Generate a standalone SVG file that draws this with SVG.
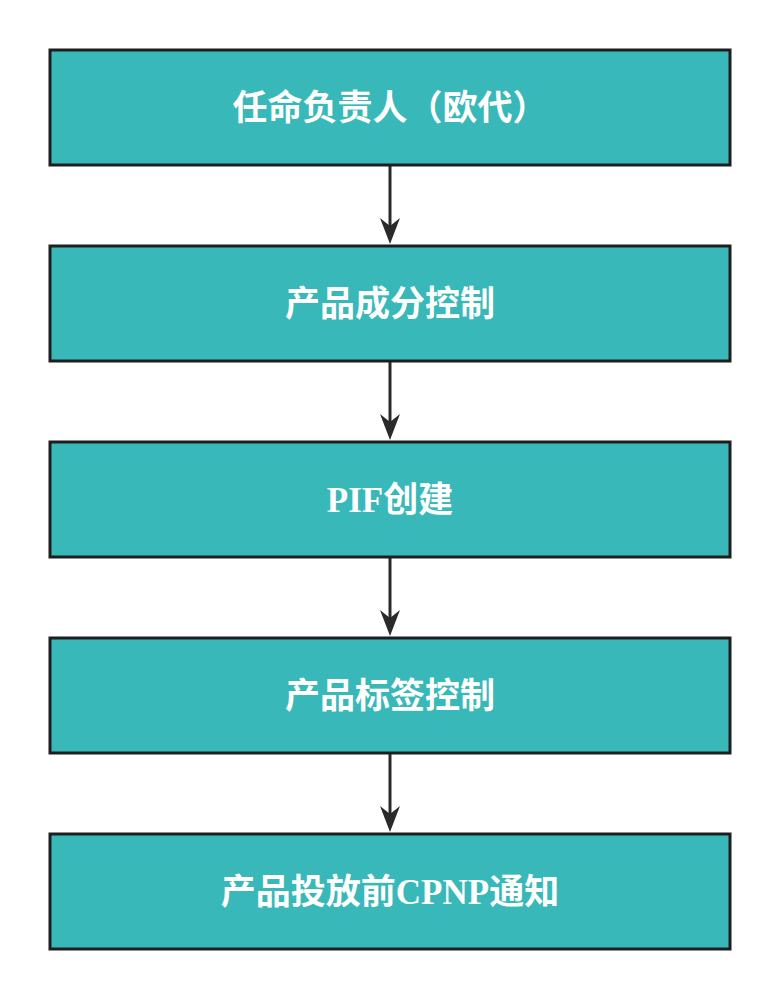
<svg xmlns="http://www.w3.org/2000/svg" width="780" height="1000" viewBox="0 0 780 1000">
<style>
.n rect{fill:#38b8b8;stroke:#1e1e1e;stroke-width:3}
.n text{fill:#fff;font-family:"Liberation Serif","Noto Sans CJK SC",serif;font-weight:bold;font-size:35px;text-anchor:middle;dominant-baseline:central}
.c line{stroke:#2a2a2a;stroke-width:3}
.c path{fill:#2a2a2a}
</style>
<rect width="780" height="1000" fill="#fff"/>
<g class="c">
<line x1="390" y1="166" x2="390" y2="230"/>
<path d="M380,218L390,244L400,218L390,226z"/>
<line x1="390" y1="362" x2="390" y2="426"/>
<path d="M380,414L390,440L400,414L390,422z"/>
<line x1="390" y1="558" x2="390" y2="622"/>
<path d="M380,610L390,636L400,610L390,618z"/>
<line x1="390" y1="754" x2="390" y2="818"/>
<path d="M380,806L390,832L400,806L390,814z"/>
</g>
<g id="n1" class="n"><rect x="50" y="50" width="680" height="115"/><text x="390" y="108">任命负责人（欧代）</text></g>
<g id="n2" class="n"><rect x="50" y="246" width="680" height="115"/><text x="390" y="304">产品成分控制</text></g>
<g id="n3" class="n"><rect x="50" y="442" width="680" height="115"/><text x="390" y="500">PIF创建</text></g>
<g id="n4" class="n"><rect x="50" y="638" width="680" height="115"/><text x="390" y="696">产品标签控制</text></g>
<g id="n5" class="n"><rect x="50" y="834" width="680" height="115"/><text x="390" y="892">产品投放前CPNP通知</text></g>
</svg>
